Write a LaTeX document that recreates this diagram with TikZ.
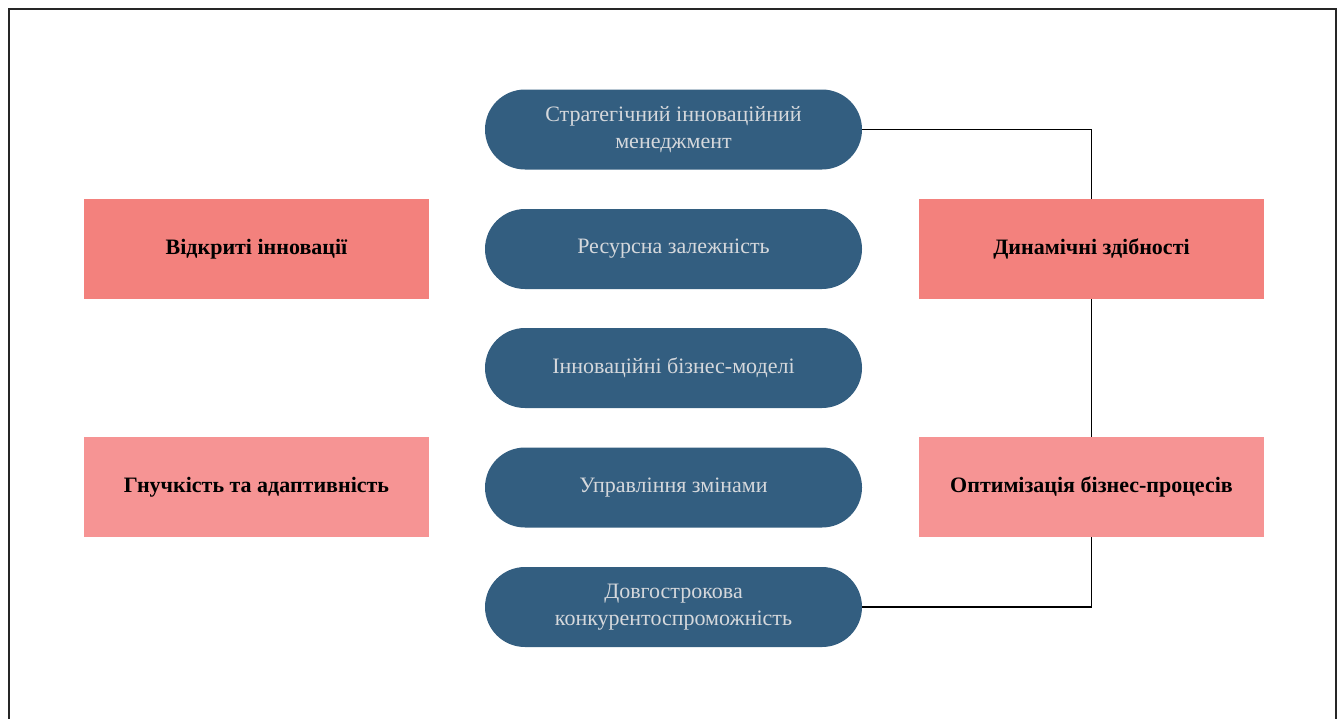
\documentclass[tikz,border=0pt]{standalone}
\usepackage{fontspec}
\setmainfont{Liberation Serif}
\usetikzlibrary{shapes.misc}
\definecolor{pillblue}{HTML}{335E80}
\definecolor{pilltext}{HTML}{D5D8DC}
\definecolor{salmon}{HTML}{F3817D}
\definecolor{salmonlight}{HTML}{F69494}
\definecolor{framegray}{HTML}{262626}
\begin{document}
\begin{tikzpicture}[x=1pt,y=-1pt,
  pill/.style={draw=none,fill=pillblue,rounded rectangle,minimum width=377pt,minimum height=80pt,
    text=pilltext,font=\fontsize{22}{27}\selectfont,align=center,inner sep=0pt},
  darkbox/.style={fill=salmon,minimum width=345pt,minimum height=100pt,inner sep=0pt,
    font=\fontsize{22}{27}\selectfont\bfseries,align=center},
  lightbox/.style={darkbox,fill=salmonlight},
  link/.style={draw=black,line width=1.6pt}]
\useasboundingbox (0,0) rectangle (1340,718);
\begin{scope}
\clip (0,0) rectangle (1340,718);
\draw[framegray,line width=2.4pt] (9,9) rectangle (1336,740);
\end{scope}
% central column
\node[pill] (p1) at (673.5,129.5) {Стратегічний інноваційний\\менеджмент};
\node[pill] (p2) at (673.5,249) {Ресурсна залежність};
\node[pill] (p3) at (673.5,368) {Інноваційні бізнес-моделі};
\node[pill] (p4) at (673.5,487.5) {Управління змінами};
\node[pill] (p5) at (673.5,607) {Довгострокова\\конкурентоспроможність};
% side boxes
\node[darkbox] (l1) at (256.5,249) {Відкриті інновації};
\node[lightbox] (l2) at (256.5,487) {Гнучкість та адаптивність};
\node[darkbox] (r1) at (1091.5,249) {Динамічні здібності};
\node[lightbox] (r2) at (1091.5,487) {Оптимізація бізнес-процесів};
% connectors
\draw[link] (p1.east) -| (r1.north);
\draw[link] (r1.south) -- (r2.north);
\draw[link] (r2.south) |- (p5.east);
\end{tikzpicture}
\end{document}
